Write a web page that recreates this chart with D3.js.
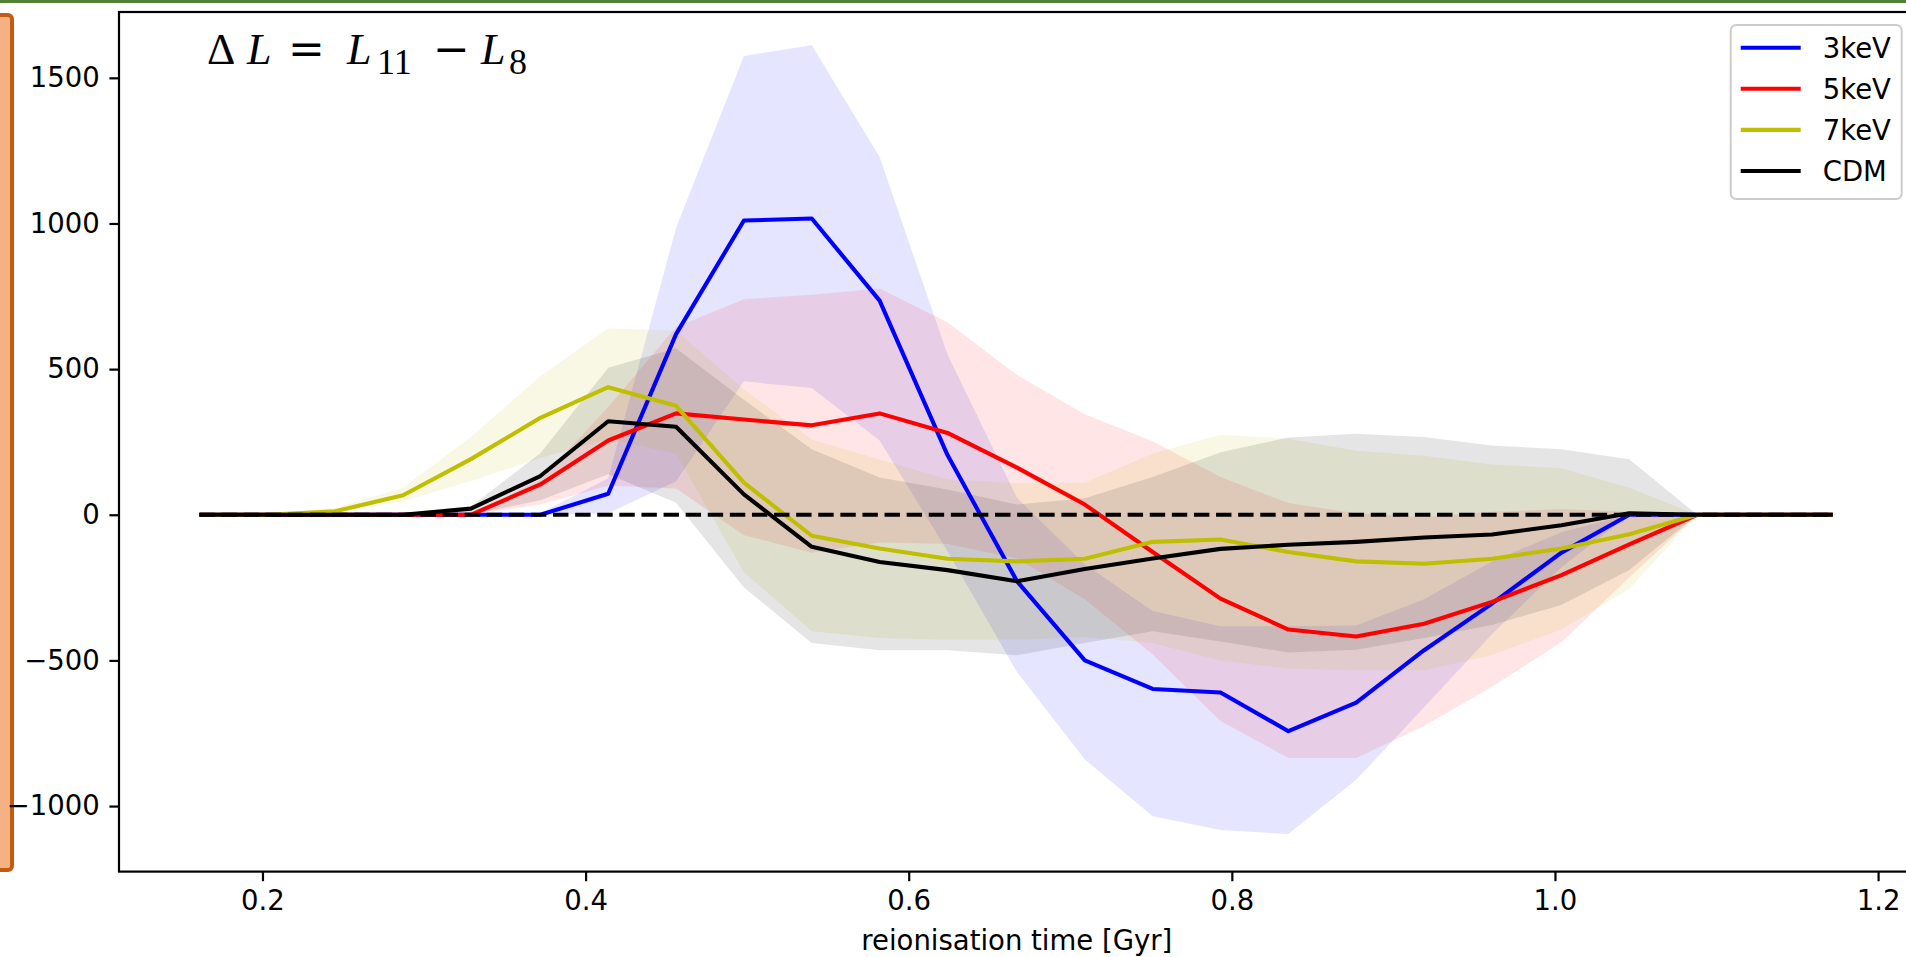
<!DOCTYPE html>
<html lang="en">
<head>
<meta charset="UTF-8">
<title>Delta L vs reionisation time</title>
<script src="https://d3js.org/d3.v7.min.js"></script>
<style>
  body { margin: 0; background: #ffffff; overflow: hidden; }
  svg { display: block; font-family: "DejaVu Sans", sans-serif; }
</style>
</head>
<body>
<svg id="chart" width="1906" height="957"></svg>
<script>
// reionisation time of each snapshot [Gyr]
const reionTime = [0.161, 0.203, 0.245, 0.287, 0.329, 0.372, 0.414, 0.456, 0.498, 0.540, 0.582, 0.624, 0.667,
                   0.709, 0.751, 0.793, 0.835, 0.877, 0.919, 0.961, 1.004, 1.046, 1.088, 1.130, 1.172];

// median Delta L and band edges, one set per model
const dL3keV = [0, 0, 0, 0, 0, 0, 72, 620, 1010, 1017, 735, 205, -228, -500, -598, -610, -743, -645, -465, -305, -130, 0, 0, 0, 0];
const hi3keV = [0, 0, 0, 0, 0, 5, 125, 985, 1575, 1612, 1228, 550, 58, -170, -330, -383, -383, -380, -290, -160, -60, 0, 0, 0, 0];
const lo3keV = [0, 0, 0, 0, 0, 0, 5, 115, 458, 435, 255, -125, -540, -840, -1035, -1082, -1096, -910, -661, -410, -180, 0, 0, 0, 0];

const dL5keV = [0, 0, 0, 0, 0, 104, 255, 348, 327, 307, 348, 281, 162, 35, -128, -288, -394, -418, -374, -299, -207, -102, 0, 0, 0];
const hi5keV = [0, 0, 0, 0, 5, 120, 370, 645, 740, 755, 777, 661, 480, 345, 252, 130, 40, 5, -8, 10, 20, 10, 0, 0, 0];
const lo5keV = [0, 0, 0, 0, 0, 35, 100, 90, -70, -130, -95, -100, -150, -290, -480, -708, -835, -835, -725, -590, -438, -215, 0, 0, 0];

const dL7keV = [0, 0, 12, 67, 191, 333, 438, 374, 110, -72, -116, -151, -160, -151, -93, -85, -128, -160, -168, -151, -116, -67, 0, 0, 0];
const hi7keV = [0, 3, 23, 93, 267, 476, 640, 632, 430, 258, 190, 122, 108, 110, 210, 275, 261, 220, 203, 173, 160, 93, 0, 0, 0];
const lo7keV = [0, 0, 6, 46, 116, 195, 260, 210, -197, -400, -423, -429, -429, -420, -440, -500, -528, -534, -534, -481, -394, -255, 0, 0, 0];

const dLCDM = [0, 0, 0, 0, 21, 133, 321, 302, 70, -110, -162, -190, -228, -186, -150, -117, -103, -93, -78, -68, -36, 5, 0, 0, 0];
const hiCDM = [0, 0, 0, 5, 29, 211, 505, 572, 395, 225, 128, 87, 35, 57, 130, 215, 265, 278, 267, 238, 225, 191, 0, 0, 0];
const loCDM = [0, 0, 0, 0, 0, 50, 139, 41, -250, -440, -465, -465, -482, -440, -400, -435, -473, -463, -423, -378, -310, -190, 0, 0, 0];

const xTicks = [0.2, 0.4, 0.6, 0.8, 1.0, 1.2];
const yTicks = [-1000, -500, 0, 500, 1000, 1500];

const models = [
  { name: '3keV', color: '#0000ff', mid: dL3keV, lo: lo3keV, hi: hi3keV },
  { name: '5keV', color: '#ff0000', mid: dL5keV, lo: lo5keV, hi: hi5keV },
  { name: '7keV', color: '#bfbf00', mid: dL7keV, lo: lo7keV, hi: hi7keV },
  { name: 'CDM',  color: '#000000', mid: dLCDM,  lo: loCDM,  hi: hiCDM }
];

const svg = d3.select('#chart');
const fs = 27.5;
const plotLeft = 119, plotRight = 1914.6, plotTop = 12, plotBottom = 871.6;

// bits of the surrounding slide
svg.append('rect').attr('x', 0).attr('y', 0).attr('width', 1906).attr('height', 3).attr('fill', '#548235');
svg.append('rect').attr('x', -8).attr('y', 15).attr('width', 20).attr('height', 855).attr('rx', 4)
  .attr('fill', '#f4b183').attr('stroke', '#c55a11').attr('stroke-width', 4);

const x = d3.scaleLinear().domain([0.1112, 1.2226]).range([plotLeft, plotRight]);
const y = d3.scaleLinear().domain([-1225, 1726]).range([plotBottom, plotTop]);

const plot = svg.append('g');

// bands first (matplotlib puts fills under lines)
const area = d3.area()
  .x((d, i) => x(reionTime[i]))
  .y0(d => y(d[0]))
  .y1(d => y(d[1]));

models.forEach(m => {
  plot.append('path')
    .datum(m.lo.map((v, i) => [v, m.hi[i]]))
    .attr('d', area)
    .attr('fill', m.color)
    .attr('fill-opacity', 0.1)
    .attr('stroke', 'none');
});

const line = d3.line().x((d, i) => x(reionTime[i])).y(d => y(d));

models.forEach(m => {
  plot.append('path')
    .datum(m.mid)
    .attr('d', line)
    .attr('fill', 'none')
    .attr('stroke', m.color)
    .attr('stroke-width', 4.1)
    .attr('stroke-linejoin', 'round');
});

// zero reference
plot.append('path')
  .datum(reionTime.map(() => 0))
  .attr('d', line)
  .attr('fill', 'none')
  .attr('stroke', '#000')
  .attr('stroke-width', 4.1)
  .attr('stroke-dasharray', '15.4,6.7');

// axes
const xAxis = svg.append('g')
  .attr('transform', `translate(0,${plotBottom})`)
  .call(d3.axisBottom(x).tickValues(xTicks).tickFormat(d3.format('.1f'))
    .tickSize(9.6).tickSizeOuter(0).tickPadding(9.6));
const yAxis = svg.append('g')
  .attr('transform', `translate(${plotLeft},0)`)
  .call(d3.axisLeft(y).tickValues(yTicks).tickFormat(d3.format('d'))
    .tickSize(9.6).tickSizeOuter(0).tickPadding(9.6));

[xAxis, yAxis].forEach(a => {
  a.select('.domain').remove();
  a.selectAll('.tick line').attr('stroke', '#000').attr('stroke-width', 2.2);
  a.selectAll('.tick text').attr('fill', '#000')
    .style('font-family', '"DejaVu Sans", sans-serif').style('font-size', fs + 'px');
});

// spines
svg.append('rect')
  .attr('x', plotLeft).attr('y', plotTop)
  .attr('width', plotRight - plotLeft).attr('height', plotBottom - plotTop)
  .attr('fill', 'none').attr('stroke', '#000').attr('stroke-width', 2.2);

svg.append('text')
  .attr('x', (plotLeft + plotRight) / 2).attr('y', 950)
  .attr('text-anchor', 'middle')
  .style('font-size', fs + 'px')
  .text('reionisation time [Gyr]');

// title formula
const serif = '"Liberation Serif", serif';
const opSerif = '"DejaVu Serif", serif';
const title = svg.append('g');
const tParts = [
  { t: '\u0394', x: 207, size: 44, it: false, dy: 0, f: serif },
  { t: 'L', x: 247, size: 44, it: true, dy: 0, f: serif },
  { t: '=', x: 288, size: 44, it: false, dy: 0, f: opSerif },
  { t: 'L', x: 347, size: 44, it: true, dy: 0, f: serif },
  { t: '11', x: 377, size: 36, it: false, dy: 10, f: serif },
  { t: '\u2212', x: 433, size: 44, it: false, dy: 0, f: opSerif },
  { t: 'L', x: 481, size: 44, it: true, dy: 0, f: serif },
  { t: '8', x: 509, size: 36, it: false, dy: 10, f: serif }
];
tParts.forEach(p => {
  title.append('text')
    .attr('x', p.x).attr('y', 64 + p.dy)
    .style('font-family', p.f)
    .style('font-size', p.size + 'px')
    .style('font-style', p.it ? 'italic' : 'normal')
    .text(p.t);
});

// legend
const lg = svg.append('g');
lg.append('rect')
  .attr('x', 1730.7).attr('y', 25).attr('width', 171).attr('height', 174).attr('rx', 5.5)
  .attr('fill', '#fff').attr('fill-opacity', 0.8)
  .attr('stroke', '#cccccc').attr('stroke-width', 2);
models.forEach((m, i) => {
  const ly = 47.7 + i * 41.1;
  lg.append('line')
    .attr('x1', 1740.7).attr('x2', 1800.7).attr('y1', ly).attr('y2', ly)
    .attr('stroke', m.color).attr('stroke-width', 4.1);
  lg.append('text')
    .attr('x', 1822.7).attr('y', ly).attr('dy', '0.36em')
    .style('font-size', fs + 'px')
    .text(m.name);
});
</script>
</body>
</html>
